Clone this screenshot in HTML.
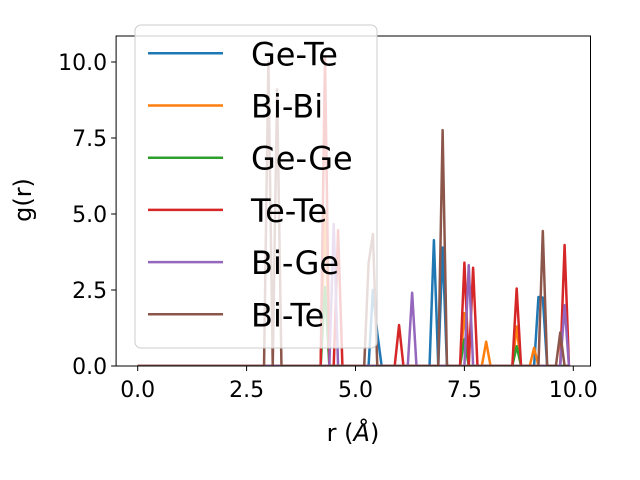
<!DOCTYPE html>
<html><head><meta charset="utf-8"><style>
body{margin:0;background:#fff}
svg{display:block;font-family:"DejaVu Sans","Liberation Sans",sans-serif}
</style></head><body>
<svg id="chart" width="640" height="480" viewBox="0 0 640 480">
<g id="plot"></g>
<g id="axes"></g>
</svg>
<script>
const seriesNames = ["Ge-Te","Bi-Bi","Ge-Ge","Te-Te","Bi-Ge","Bi-Te"];
const seriesColors = ["#1f77b4","#ff7f0e","#2ca02c","#d62728","#9467bd","#8c564b"];
const geTeR = [5.4,5.5,6.8,7.0,9.2,9.3];
const geTeG = [2.5,1.08,4.14,3.9,2.27,2.25];
const biBiR = [4.3,7.5,8.0,8.7,9.1];
const biBiG = [5.1,1.74,0.8,1.3,0.6];
const geGeR = [4.3,7.5,8.7];
const geGeG = [2.6,0.88,0.65];
const teTeR = [4.3,4.6,6.0,7.5,7.7,8.7,9.8];
const teTeG = [10.2,4.47,1.35,3.4,3.23,2.55,3.98];
const biGeR = [4.5,6.3,7.6,9.8];
const biGeG = [4.67,2.41,3.32,2.0];
const biTeR = [3.0,3.2,5.3,5.4,7.0,9.3,9.7];
const biTeG = [10.0,9.1,3.38,4.34,7.76,4.44,1.1];
const xTicks = [0,2.5,5,7.5,10];
const yTicks = [0,2.5,5,7.5,10];

const NS="http://www.w3.org/2000/svg";
const L=116.1,R=590.5,T=36,B=366;
const X=v=>137.7+v*43.56;
const Y=v=>366-v*30.4;
function mk(tag,attrs,parent){const e=document.createElementNS(NS,tag);for(const k in attrs)e.setAttribute(k,attrs[k]);parent.appendChild(e);return e;}
const plot=document.getElementById('plot');
const axes=document.getElementById('axes');
const clip=mk('clipPath',{id:'cp'},plot);
mk('rect',{x:L,y:T,width:R-L,height:B-T},clip);
const allR=[geTeR,biBiR,geGeR,teTeR,biGeR,biTeR];
const allG=[geTeG,biBiG,geGeG,teTeG,biGeG,biTeG];
for(let s=0;s<6;s++){
  const pts=[];
  for(let i=0;i<100;i++){
    const r=Math.round(i)/10;
    let g=0;
    allR[s].forEach((pr,j)=>{if(Math.abs(pr-r)<1e-6)g=allG[s][j];});
    pts.push(X(r).toFixed(2)+','+Y(g).toFixed(2));
  }
  const p=mk('polyline',{points:pts.join(' '),fill:'none',stroke:seriesColors[s],'stroke-width':2.5,'stroke-linejoin':'round','clip-path':'url(#cp)'},plot);
  
  
}
const frame=mk('rect',{x:L,y:T,width:R-L,height:B-T,fill:'none',stroke:'#000','stroke-width':1},axes);


xTicks.forEach(v=>{
  mk('line',{x1:X(v),x2:X(v),y1:B,y2:B+5,stroke:'#000'},axes);
  const t=mk('text',{x:X(v),y:B+31,'text-anchor':'middle','font-size':22},axes);
  t.textContent=v.toFixed(1);
  
  
});
yTicks.forEach(v=>{
  mk('line',{x1:L-5,x2:L,y1:Y(v),y2:Y(v),stroke:'#000'},axes);
  const t=mk('text',{x:L-9,y:Y(v)+8,'text-anchor':'end','font-size':22},axes);
  t.textContent=v.toFixed(1);
  
  
});
const xl=mk('text',{x:353,y:441,'text-anchor':'middle','font-size':24},axes);
xl.innerHTML='r (<tspan font-style="italic">Å</tspan>)';


const yl=mk('text',{x:0,y:0,'text-anchor':'middle','font-size':24,transform:'translate(31,200) rotate(-90)'},axes);
yl.textContent='g(r)';


const leg=mk('g',{},axes);


mk('rect',{x:135,y:25,width:242,height:323,rx:6,fill:'#fff','fill-opacity':0.8,stroke:'#ccc','stroke-width':1},leg);
seriesNames.forEach((n,i)=>{
  const y=53.3+i*52.2;
  const e=mk('g',{},leg);
  
  
  mk('line',{x1:148,x2:223,y1:y,y2:y,stroke:seriesColors[i],'stroke-width':2.5},e);
  const t=mk('text',{x:251,y:y+12,'font-size':32},e);
  t.textContent=n;
});
</script>
</body></html>
